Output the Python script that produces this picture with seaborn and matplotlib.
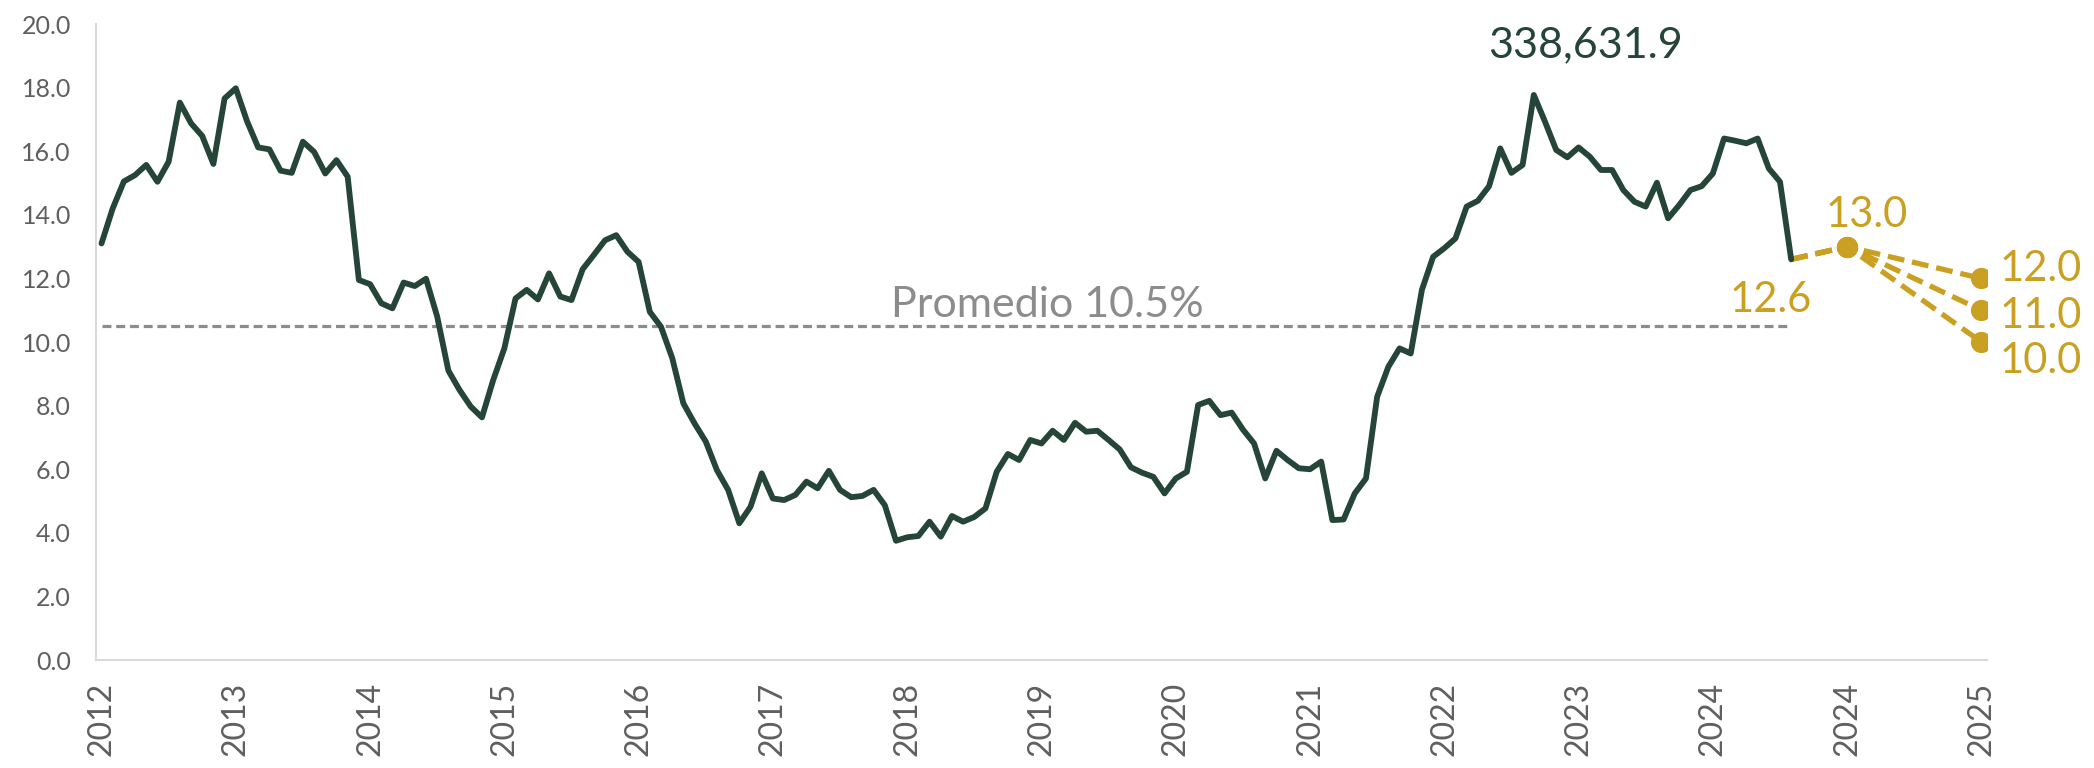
import numpy as np
import pandas as pd
import matplotlib
matplotlib.use("Agg")
import matplotlib.pyplot as plt
import seaborn as sns

# monthly rate, Jan 2012 .. Aug 2024
tasa = [13.1, 14.2, 15.05, 15.25, 15.57, 15.04, 15.67, 17.53, 16.88, 16.48,
        15.6, 17.66, 17.98, 16.95, 16.12, 16.06, 15.39, 15.32, 16.3, 15.98,
        15.3, 15.72, 15.2, 11.95, 11.82, 11.22, 11.06,
        11.87, 11.76, 11.99, 10.8, 9.1, 8.49, 7.97, 7.63, 8.8, 9.8,
        11.37, 11.64, 11.34, 12.16, 11.43, 11.32, 12.29, 12.74, 13.2, 13.36,
        12.84, 12.52, 10.95, 10.48,
        9.5, 8.07, 7.44, 6.87, 5.97, 5.35, 4.3, 4.82, 5.87, 5.08,
        5.03, 5.19, 5.61, 5.4, 5.95, 5.35, 5.12, 5.16, 5.35, 4.87,
        3.75, 3.86, 3.9, 4.35, 3.88, 4.53, 4.35, 4.5,
        4.77, 5.92, 6.48, 6.29, 6.92, 6.81, 7.21, 6.92, 7.46, 7.18,
        7.21, 6.92, 6.62, 6.06, 5.89, 5.76, 5.24, 5.71, 5.92, 8.02,
        8.15, 7.7, 7.78, 7.25, 6.81, 5.71,
        6.58, 6.29, 6.03, 6.0, 6.24, 4.4, 4.42, 5.24, 5.71, 8.28,
        9.22, 9.8, 9.64, 11.64, 12.68, 12.95, 13.26, 14.26, 14.44, 14.9,
        16.09, 15.32, 15.57, 17.77,
        16.93, 16.04, 15.81, 16.12, 15.83, 15.41, 15.41, 14.78, 14.41, 14.26,
        15.01, 13.89, 14.31, 14.78, 14.9, 15.3, 16.4, 16.33, 16.25, 16.4,
        15.46, 15.04, 12.6]

year_labels = ["2012", "2013", "2014", "2015", "2016", "2017", "2018", "2019",
               "2020", "2021", "2022", "2023", "2024", "2024", "2025"]

promedio = 10.5
proj_cierre_2024 = 13.0
proj_cierre_2025 = [12.0, 11.0, 10.0]
total_label = "338,631.9"

GREEN = "#244537"
GOLD = "#C9A021"
GREY = "#8c8c8c"
TICK = "#5f5f5f"

sns.set_theme(style="white")
plt.rcParams["font.family"] = ["Lato", "DejaVu Sans"]

fig = plt.figure(figsize=(20.94, 7.68), dpi=100)
ax = fig.add_axes([0.0458, 0.1406, 0.9031, 0.8281])

x_hist = np.arange(len(tasa))
tick_pos = np.arange(len(year_labels)) * 12

# average line
ax.plot([x_hist[0], x_hist[-1]], [promedio, promedio], color=GREY, lw=2.3,
        linestyle=(0, (2.8, 1.5)), zorder=1)
ax.text((x_hist[0] + x_hist[-1]) * 0.56, promedio + 0.3, f"Promedio {promedio:.1f}%",
        color=GREY, fontsize=31, ha="center", va="baseline")

# history
hist = pd.DataFrame({"pos": x_hist, "tasa": tasa})
sns.lineplot(data=hist, x="pos", y="tasa", ax=ax, color=GREEN, lw=4.2,
             estimator=None, zorder=3)

# projections
rows = []
for k, v in enumerate(proj_cierre_2025):
    rows += [(k, x_hist[-1], tasa[-1]), (k, tick_pos[-2], proj_cierre_2024),
             (k, tick_pos[-1], v)]
proj = pd.DataFrame(rows, columns=["esc", "pos", "tasa"])
for k, g in proj.groupby("esc"):
    sns.lineplot(data=g, x="pos", y="tasa", ax=ax, color=GOLD, lw=3.8,
                 linestyle=(0, (3.2, 1.5)), estimator=None, zorder=2)
pts = proj[proj["pos"] != x_hist[-1]]
sns.scatterplot(data=pts, x="pos", y="tasa", ax=ax, color=GOLD, s=200,
                edgecolor=GOLD, zorder=4)

lab = dict(color=GOLD, fontsize=30, textcoords="offset points")
ax.annotate(f"{tasa[-1]:.1f}", (x_hist[-1], tasa[-1]), xytext=(-15, -38),
            ha="center", va="baseline", **lab)
ax.annotate(f"{proj_cierre_2024:.1f}", (tick_pos[-2], proj_cierre_2024),
            xytext=(14, 14), ha="center", va="baseline", **lab)
for v, dy in zip(proj_cierre_2025, [-2, -13, -22]):
    ax.annotate(f"{v:.1f}", (tick_pos[-1], v), xytext=(13, dy),
                ha="left", va="baseline", **lab)

fig.text(0.757, 0.926, total_label, color=GREEN, fontsize=31,
         ha="center", va="baseline")

ax.set_xlim(-0.5, tick_pos[-1] + 0.5)
ax.set_ylim(0, 20)
ax.set_xticks(tick_pos)
ax.set_xticklabels(year_labels, rotation=90, fontsize=23, color=TICK)
ax.set_yticks(np.arange(0, 21, 2))
ax.set_yticklabels([f"{t:.1f}" for t in np.arange(0, 21, 2)], fontsize=18,
                   color=TICK)
ax.tick_params(axis="x", length=0, pad=16)
ax.tick_params(axis="y", length=0, pad=18)
ax.set_xlabel("")
ax.set_ylabel("")
for s in ["top", "right"]:
    ax.spines[s].set_visible(False)
for s in ["left", "bottom"]:
    ax.spines[s].set_color("#d9d9d9")
    ax.spines[s].set_linewidth(1.5)

fig.savefig("out.png", dpi=100, facecolor="white")
